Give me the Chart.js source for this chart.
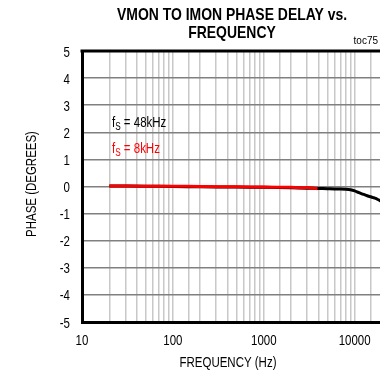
<!DOCTYPE html>
<html>
<head>
<meta charset="utf-8">
<script src="https://cdn.jsdelivr.net/npm/chart.js@4/dist/chart.umd.min.js"></script>
<style>
  html, body { margin: 0; padding: 0; background: #fff; overflow: hidden; }
  #wrap { width: 380px; height: 377px; overflow: hidden; }
  canvas { display: block; }
</style>
</head>
<body>
<div id="wrap"><canvas id="phaseChart" width="384" height="377"></canvas></div>
<script>
const FONT = "'Liberation Sans', Arial, sans-serif";
const NARROW = 0.82; // horizontal squeeze to get a narrow face

// phase delay, 48kHz sample rate
const freq48 = [20, 50, 100, 200, 500, 1000, 2000, 3000, 4000, 5000, 6000, 7000, 8000, 9000,
                10000, 11000, 12000, 13000, 14000, 15000, 16000, 17000, 18000, 19000, 20000];
const phase48 = [0.02, 0.01, 0.0, -0.01, -0.02, -0.03, -0.05, -0.06, -0.07, -0.08, -0.09, -0.09, -0.1, -0.12,
                 -0.16, -0.22, -0.27, -0.31, -0.35, -0.38, -0.41, -0.44, -0.48, -0.52, -0.56];

// phase delay, 8kHz sample rate
const freq8 = [20, 50, 100, 200, 500, 1000, 1500, 2000, 2500, 3000, 3500, 3900];
const phase8 = [0.02, 0.01, 0.01, 0.0, -0.01, -0.02, -0.03, -0.03, -0.05, -0.04, -0.06, -0.08];

const xMajor = [10, 100, 1000, 10000];
const yLabels = [5, 4, 3, 2, 1, 0, -1, -2, -3, -4, -5];

const toPoints = (xs, ys) => xs.map((x, i) => ({ x: x, y: ys[i] }));

function narrowText(ctx, text, x, y, font, align, color) {
  ctx.save();
  ctx.translate(x, y);
  ctx.scale(NARROW, 1);
  ctx.font = font;
  ctx.textAlign = align;
  ctx.fillStyle = color || '#000';
  ctx.fillText(text, 0, 0);
  const w = ctx.measureText(text).width * NARROW;
  ctx.restore();
  return w;
}

const overlay = {
  id: 'overlay',
  afterDraw(chart) {
    const ctx = chart.ctx;
    const a = chart.chartArea;
    const xs = chart.scales.x;
    const ys = chart.scales.y;
    ctx.save();
    ctx.textBaseline = 'alphabetic';

    // top frame line
    ctx.strokeStyle = '#000';
    ctx.lineWidth = 3;
    ctx.beginPath();
    ctx.moveTo(a.left - 1.5, a.top);
    ctx.lineTo(a.right, a.top);
    ctx.stroke();

    // title
    const cx = 232;
    narrowText(ctx, 'VMON TO IMON PHASE DELAY vs.', cx, 20, 'bold 17px ' + FONT, 'center');
    narrowText(ctx, 'FREQUENCY', cx, 38, 'bold 17px ' + FONT, 'center');

    ctx.font = '10px ' + FONT;
    ctx.fillStyle = '#000';
    ctx.textAlign = 'right';
    ctx.fillText('toc75', 378, 44);

    // tick labels
    xMajor.forEach(v => {
      narrowText(ctx, String(v), xs.getPixelForValue(v), 345, '14px ' + FONT, 'center');
    });
    yLabels.forEach(v => {
      narrowText(ctx, String(v), 70, ys.getPixelForValue(v) + 5.5, '14px ' + FONT, 'right');
    });

    // axis titles
    narrowText(ctx, 'FREQUENCY (Hz)', 228, 367, '14px ' + FONT, 'center');
    ctx.save();
    ctx.translate(36, 184);
    ctx.rotate(-Math.PI / 2);
    narrowText(ctx, 'PHASE (DEGREES)', 0, 0, '14px ' + FONT, 'center');
    ctx.restore();

    // series labels with subscript
    const label = (x, y, color, rest) => {
      let w = narrowText(ctx, 'f', x, y, '14px ' + FONT, 'left', color);
      w += narrowText(ctx, 'S', x + w, y + 3, '10px ' + FONT, 'left', color);
      narrowText(ctx, rest, x + w, y, '14px ' + FONT, 'left', color);
    };
    label(112, 127, '#000', ' = 48kHz');
    label(112, 153, '#ff0000', ' = 8kHz');
    ctx.restore();
  }
};

new Chart('phaseChart', {
  type: 'line',
  data: {
    datasets: [
      {
        data: toPoints(freq48, phase48),
        borderColor: '#000',
        borderWidth: 3,
        pointRadius: 0,
        tension: 0.3,
        order: 1
      },
      {
        data: toPoints(freq8, phase8),
        borderColor: '#ff0000',
        borderWidth: 3,
        pointRadius: 0,
        tension: 0.3,
        order: 0
      }
    ]
  },
  options: {
    responsive: false,
    animation: false,
    layout: { padding: { top: 51, left: 0, right: 2, bottom: 0 } },
    plugins: {
      legend: { display: false },
      title: { display: false },
      tooltip: { enabled: false }
    },
    scales: {
      x: {
        type: 'logarithmic',
        min: 10,
        max: 20000,
        afterFit(scale) { scale.height = 55; },
        border: { display: true, color: '#000', width: 3 },
        grid: {
          color: '#c8c8c8',
          lineWidth: 1.5,
          drawTicks: false
        },
        ticks: {
          autoSkip: false,
          display: false
        }
      },
      y: {
        min: -5,
        max: 5,
        afterFit(scale) { scale.width = 82; },
        border: { display: true, color: '#000', width: 3 },
        grid: {
          color: '#808080',
          lineWidth: 1.5,
          drawTicks: false
        },
        ticks: {
          stepSize: 1,
          display: false
        }
      }
    }
  },
  plugins: [overlay]
});
</script>
</body>
</html>
